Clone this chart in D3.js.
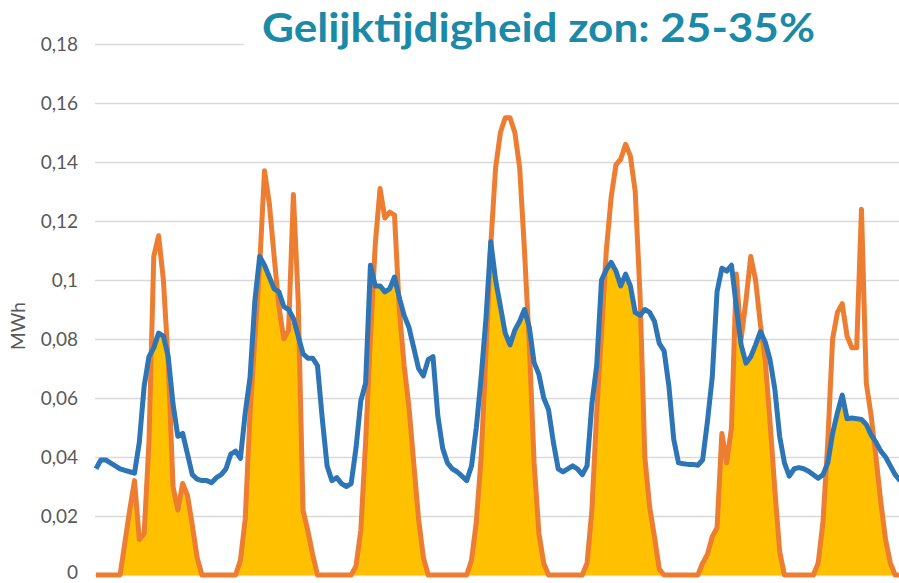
<!DOCTYPE html>
<html lang="nl">
<head>
<meta charset="UTF-8">
<title>Gelijktijdigheid zon</title>
<script src="https://d3js.org/d3.v7.min.js"></script>
<style>
    body { margin: 0; background: #fff; }
    #chart text { font-family: Lato, "Open Sans", sans-serif; }
</style>
</head>
<body>
<div id="chart"></div>
<script>
    // hourly values over one week (MWh), one row per day
    const solar = [
        0, 0, 0, 0, 0, 0, 0.011, 0.022, 0.032, 0.012, 0.014, 0.045, 0.108, 0.115, 0.100, 0.072, 0.030, 0.022, 0.031, 0.027, 0.017, 0.006, 0, 0,
        0, 0, 0, 0, 0, 0, 0.005, 0.019, 0.055, 0.080, 0.105, 0.137, 0.126, 0.108, 0.091, 0.080, 0.083, 0.129, 0.093, 0.022, 0.015, 0.007, 0, 0,
        0, 0, 0, 0, 0, 0, 0.003, 0.015, 0.045, 0.080, 0.112, 0.131, 0.121, 0.123, 0.122, 0.090, 0.071, 0.057, 0.038, 0.019, 0.006, 0, 0, 0,
        0, 0, 0, 0, 0, 0, 0.005, 0.018, 0.040, 0.075, 0.112, 0.138, 0.150, 0.155, 0.155, 0.150, 0.138, 0.110, 0.078, 0.038, 0.014, 0.004, 0, 0,
        0, 0, 0, 0, 0, 0, 0.004, 0.022, 0.055, 0.082, 0.110, 0.128, 0.139, 0.141, 0.146, 0.142, 0.130, 0.095, 0.040, 0.023, 0.013, 0.002, 0, 0,
        0, 0, 0, 0, 0, 0, 0.004, 0.007, 0.013, 0.016, 0.048, 0.038, 0.050, 0.102, 0.080, 0.093, 0.108, 0.100, 0.085, 0.073, 0.052, 0.029, 0.008, 0,
        0, 0, 0, 0, 0, 0, 0.004, 0.018, 0.045, 0.080, 0.089, 0.092, 0.081, 0.077, 0.077, 0.124, 0.065, 0.054, 0.040, 0.025, 0.012, 0.004, 0, 0
    ];

    const usage = [
        0.036, 0.039, 0.039, 0.038, 0.037, 0.036, 0.0355, 0.035, 0.0345, 0.045, 0.064, 0.074, 0.077, 0.082, 0.081, 0.074, 0.058, 0.047, 0.048, 0.041, 0.034, 0.0325, 0.032, 0.032,
        0.0313, 0.033, 0.034, 0.036, 0.041, 0.042, 0.0395, 0.055, 0.067, 0.093, 0.108, 0.105, 0.101, 0.097, 0.096, 0.091, 0.090, 0.087, 0.081, 0.075, 0.0735, 0.0735, 0.071, 0.053,
        0.037, 0.032, 0.033, 0.031, 0.030, 0.031, 0.043, 0.059, 0.065, 0.105, 0.098, 0.098, 0.096, 0.097, 0.101, 0.094, 0.088, 0.084, 0.077, 0.070, 0.0675, 0.073, 0.074, 0.054,
        0.043, 0.038, 0.036, 0.035, 0.0335, 0.032, 0.037, 0.050, 0.067, 0.087, 0.113, 0.100, 0.091, 0.082, 0.078, 0.083, 0.086, 0.090, 0.084, 0.072, 0.068, 0.060, 0.056, 0.045,
        0.036, 0.035, 0.036, 0.037, 0.036, 0.034, 0.037, 0.058, 0.071, 0.100, 0.1035, 0.106, 0.103, 0.098, 0.102, 0.098, 0.089, 0.088, 0.090, 0.089, 0.086, 0.0785, 0.076, 0.064,
        0.046, 0.038, 0.0377, 0.0375, 0.0375, 0.0372, 0.039, 0.052, 0.067, 0.096, 0.104, 0.103, 0.105, 0.091, 0.078, 0.0718, 0.074, 0.078, 0.0825, 0.079, 0.073, 0.063, 0.047, 0.038,
        0.0335, 0.036, 0.0364, 0.036, 0.0352, 0.034, 0.0328, 0.034, 0.038, 0.048, 0.055, 0.061, 0.053, 0.0532, 0.053, 0.0527, 0.051, 0.0475, 0.045, 0.042, 0.040, 0.037, 0.034, 0.032
    ];

    const yTicks = [0, 0.02, 0.04, 0.06, 0.08, 0.10, 0.12, 0.14, 0.16, 0.18];
    const yLabels = ['0', '0,02', '0,04', '0,06', '0,08', '0,1', '0,12', '0,14', '0,16', '0,18'];

    const title = 'Gelijktijdigheid zon: 25-35%';
    const yTitle = 'MWh';

    const width = 899;
    const height = 583;
    const left = 95;
    const right = 899;

    const svg = d3.select('#chart').append('svg')
        .attr('width', width)
        .attr('height', height);

    const x = d3.scaleLinear().domain([0, solar.length - 1]).range([96, 900]);
    const y = d3.scaleLinear().domain([0, 0.18]).range([575, 44]);

    // gridlines + tick labels
    const yAxis = d3.axisLeft(y)
        .tickValues(yTicks)
        .tickSize(-(right - left))
        .tickPadding(17)
        .tickFormat((d, i) => yLabels[i]);

    const gy = svg.append('g')
        .attr('transform', `translate(${left},0)`)
        .call(yAxis);
    gy.select('.domain').remove();
    gy.selectAll('.tick line').attr('stroke', '#d9d9d9').attr('stroke-width', 1.6);
    gy.selectAll('.tick text')
        .attr('fill', '#595959')
        .attr('dy', d => d === 0 ? '0.18em' : '0.32em')
        .style('font-size', '19px');

    svg.append('text')
        .attr('transform', 'translate(25,326) rotate(-90)')
        .attr('text-anchor', 'middle')
        .attr('fill', '#595959')
        .style('font-size', '19px')
        .text(yTitle);

    // simultaneous part: below both curves
    const both = solar.map((s, i) => Math.min(s, usage[i]));

    svg.append('path')
        .datum(both)
        .attr('fill', '#ffc000')
        .attr('d', d3.area()
            .x((d, i) => x(i))
            .y0(y(0))
            .y1(d => y(d)));

    const line = d3.line()
        .x((d, i) => x(i))
        .y(d => y(d));

    svg.append('path')
        .datum(solar)
        .attr('fill', 'none')
        .attr('stroke', '#ed7d31')
        .attr('stroke-width', 5)
        .attr('stroke-linejoin', 'round')
        .attr('d', line);

    svg.append('path')
        .datum(usage)
        .attr('fill', 'none')
        .attr('stroke', '#2e75b6')
        .attr('stroke-width', 5)
        .attr('stroke-linejoin', 'round')
        .attr('d', line);

    // title sits on a white box over the top gridline
    svg.append('rect')
        .attr('x', 244)
        .attr('y', 0)
        .attr('width', width - 244)
        .attr('height', 62)
        .attr('fill', '#fff');

    svg.append('text')
        .attr('x', 262)
        .attr('y', 42)
        .attr('fill', '#1b8aa8')
        .attr('textLength', 553)
        .attr('lengthAdjust', 'spacingAndGlyphs')
        .style('font-size', '41px')
        .style('font-weight', 'bold')
        .text(title);
</script>
</body>
</html>
